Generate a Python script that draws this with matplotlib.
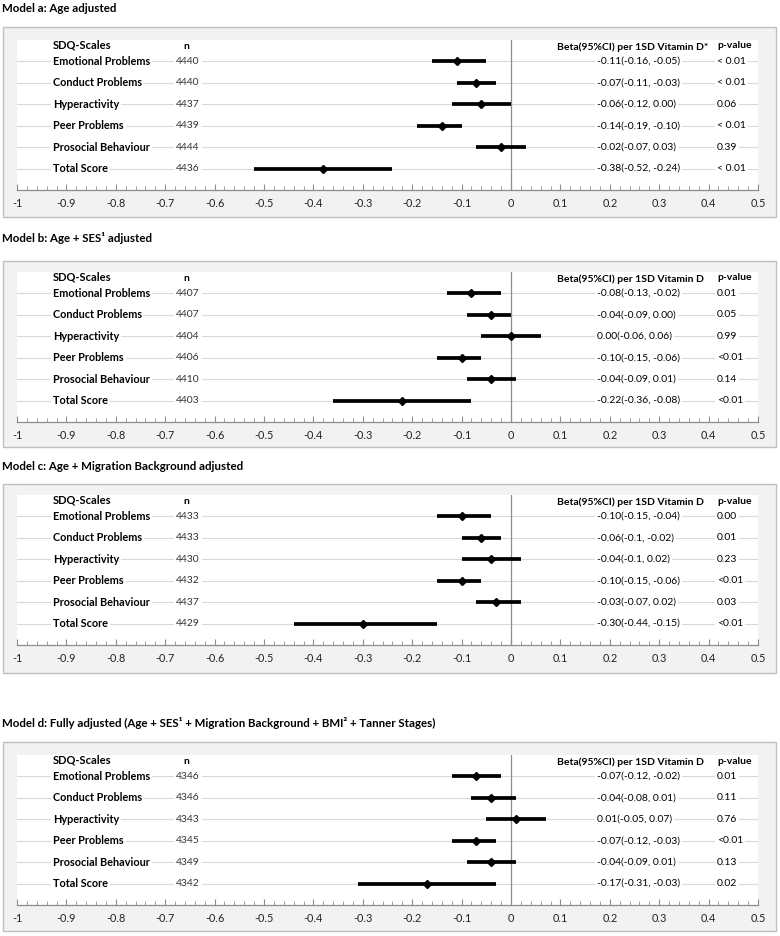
import matplotlib
matplotlib.use("Agg")
import matplotlib.pyplot as plt
from matplotlib.patches import Rectangle
from matplotlib.ticker import MultipleLocator

plt.rcParams["font.family"] = ["Lato", "DejaVu Sans"]

# ---- data ----
scales = ["Emotional Problems", "Conduct Problems", "Hyperactivity",
          "Peer Problems", "Prosocial Behaviour", "Total Score"]

titles = [
    "Model a: Age adjusted",
    "Model b: Age + SES\u00b9 adjusted",
    "Model c: Age + Migration Background adjusted",
    "Model d: Fully adjusted (Age + SES\u00b9 + Migration Background + BMI\u00b2 + Tanner Stages)",
]
beta_headers = [
    "Beta(95%CI) per 1SD Vitamin D*",
    "Beta(95%CI) per 1SD Vitamin D",
    "Beta(95%CI) per 1SD Vitamin D",
    "Beta(95%CI) per 1SD Vitamin D",
]

n_a = [4440, 4440, 4437, 4439, 4444, 4436]
beta_a = [-0.11, -0.07, -0.06, -0.14, -0.02, -0.38]
lo_a = [-0.16, -0.11, -0.12, -0.19, -0.07, -0.52]
hi_a = [-0.05, -0.03, 0.00, -0.10, 0.03, -0.24]
ci_text_a = ["-0.11(-0.16, -0.05)", "-0.07(-0.11, -0.03)", "-0.06(-0.12, 0.00)",
             "-0.14(-0.19, -0.10)", "-0.02(-0.07, 0.03)", "-0.38(-0.52, -0.24)"]
p_a = ["< 0.01", "< 0.01", "0.06", "< 0.01", "0.39", "< 0.01"]

n_b = [4407, 4407, 4404, 4406, 4410, 4403]
beta_b = [-0.08, -0.04, 0.00, -0.10, -0.04, -0.22]
lo_b = [-0.13, -0.09, -0.06, -0.15, -0.09, -0.36]
hi_b = [-0.02, 0.00, 0.06, -0.06, 0.01, -0.08]
ci_text_b = ["-0.08(-0.13, -0.02)", "-0.04(-0.09, 0.00)", "0.00(-0.06, 0.06)",
             "-0.10(-0.15, -0.06)", "-0.04(-0.09, 0.01)", "-0.22(-0.36, -0.08)"]
p_b = ["0.01", "0.05", "0.99", "<0.01", "0.14", "<0.01"]

n_c = [4433, 4433, 4430, 4432, 4437, 4429]
beta_c = [-0.10, -0.06, -0.04, -0.10, -0.03, -0.30]
lo_c = [-0.15, -0.10, -0.10, -0.15, -0.07, -0.44]
hi_c = [-0.04, -0.02, 0.02, -0.06, 0.02, -0.15]
ci_text_c = ["-0.10(-0.15, -0.04)", "-0.06(-0.1, -0.02)", "-0.04(-0.1, 0.02)",
             "-0.10(-0.15, -0.06)", "-0.03(-0.07, 0.02)", "-0.30(-0.44, -0.15)"]
p_c = ["0.00", "0.01", "0.23", "<0.01", "0.03", "<0.01"]

n_d = [4346, 4346, 4343, 4345, 4349, 4342]
beta_d = [-0.07, -0.04, 0.01, -0.07, -0.04, -0.17]
lo_d = [-0.12, -0.08, -0.05, -0.12, -0.09, -0.31]
hi_d = [-0.02, 0.01, 0.07, -0.03, 0.01, -0.03]
ci_text_d = ["-0.07(-0.12, -0.02)", "-0.04(-0.08, 0.01)", "0.01(-0.05, 0.07)",
             "-0.07(-0.12, -0.03)", "-0.04(-0.09, 0.01)", "-0.17(-0.31, -0.03)"]
p_d = ["0.01", "0.11", "0.76", "<0.01", "0.13", "0.02"]

models = [
    (n_a, beta_a, lo_a, hi_a, ci_text_a, p_a),
    (n_b, beta_b, lo_b, hi_b, ci_text_b, p_b),
    (n_c, beta_c, lo_c, hi_c, ci_text_c, p_c),
    (n_d, beta_d, lo_d, hi_d, ci_text_d, p_d),
]

# ---- layout in pixels (figure is 780 x 936) ----
W, H = 780, 936
# (title_y, box_top, box_bottom, axes_top, axes_bottom)
layout = [
    (9, 27, 217, 40, 190),
    (238, 261, 447, 272, 422),
    (467, 484, 673, 495, 645),
    (723, 742, 931, 755, 905),
]
ax_left, ax_right = 17, 758
box_left, box_right = 3, 776

fig = plt.figure(figsize=(W / 100, H / 100), dpi=100)
fig.patch.set_facecolor("white")

white_box = dict(facecolor="white", edgecolor="none", pad=1.5)
fs = 7.5

for (title, bhead, data, lay) in zip(titles, beta_headers, models, layout):
    n_vals, beta, lo, hi, ci_text, pvals = data
    t_y, b_top, b_bot, a_top, a_bot = lay

    fig.text(2 / W, 1 - t_y / H, title, fontsize=8.3, fontweight="bold",
             ha="left", va="center")
    fig.patches.append(Rectangle((box_left / W, 1 - b_bot / H),
                                 (box_right - box_left) / W, (b_bot - b_top) / H,
                                 transform=fig.transFigure, facecolor="#f2f2f2",
                                 edgecolor="#bfbfbf", linewidth=1.0, zorder=-1))

    ax = fig.add_axes([ax_left / W, 1 - a_bot / H,
                       (ax_right - ax_left) / W, (a_bot - a_top) / H])
    ax.set_zorder(2)
    ax.set_facecolor("white")
    ax.set_xlim(-1, 0.5)
    ax.set_ylim(0, 7)

    ys = [6, 5, 4, 3, 2, 1]
    for y in ys:
        ax.axhline(y, color="#d9d9d9", linewidth=0.8, zorder=1)
    ax.axvline(0, color="#8c8c8c", linewidth=0.9, zorder=2)

    ax.hlines(ys, lo, hi, color="black", linewidth=2.7, zorder=3)
    ax.plot(beta, ys, linestyle="none", marker="D", markersize=4.3,
            color="black", zorder=4)

    # header row
    ax.text(-0.927, 6.75, "SDQ-Scales", fontsize=fs + 0.5, fontweight="bold",
            ha="left", va="center")
    ax.text(-0.657, 6.68, "n", fontsize=fs, fontweight="bold",
            ha="center", va="center")
    ax.text(0.093, 6.68, bhead, fontsize=fs, fontweight="bold",
            ha="left", va="center")
    ax.text(0.417, 6.72, "p-value", fontsize=fs, fontweight="bold",
            ha="left", va="center")

    for y, lab, nv, ct, pv in zip(ys, scales, n_vals, ci_text, pvals):
        ax.text(-0.927, y, lab, fontsize=fs + 0.3, fontweight="bold", ha="left",
                va="center", bbox=white_box, zorder=5)
        ax.text(-0.678, y, str(nv), fontsize=fs, ha="left", va="center",
                color="#333333", bbox=white_box, zorder=5)
        ax.text(0.174, y, ct, fontsize=fs, ha="left", va="center",
                bbox=white_box, zorder=5)
        ax.text(0.417, y, pv, fontsize=fs, ha="left", va="center",
                bbox=white_box, zorder=5)

    for side in ["top", "left", "right"]:
        ax.spines[side].set_visible(False)
    ax.spines["bottom"].set_color("#8c8c8c")
    ax.spines["bottom"].set_linewidth(0.9)
    ax.set_yticks([])
    ax.xaxis.set_minor_locator(MultipleLocator(0.02))
    ticks = [round(-1 + 0.1 * i, 1) for i in range(16)]
    ax.set_xticks(ticks)
    ax.set_xticklabels([f"{t:g}" if t != 0 else "0" for t in ticks])
    ax.tick_params(axis="x", which="both", direction="in", colors="#8c8c8c",
                   labelcolor="#222222", labelsize=fs + 0.3, pad=6)
    ax.tick_params(axis="x", which="major", length=4)
    ax.tick_params(axis="x", which="minor", length=3)

fig.savefig("out.png", dpi=100)
